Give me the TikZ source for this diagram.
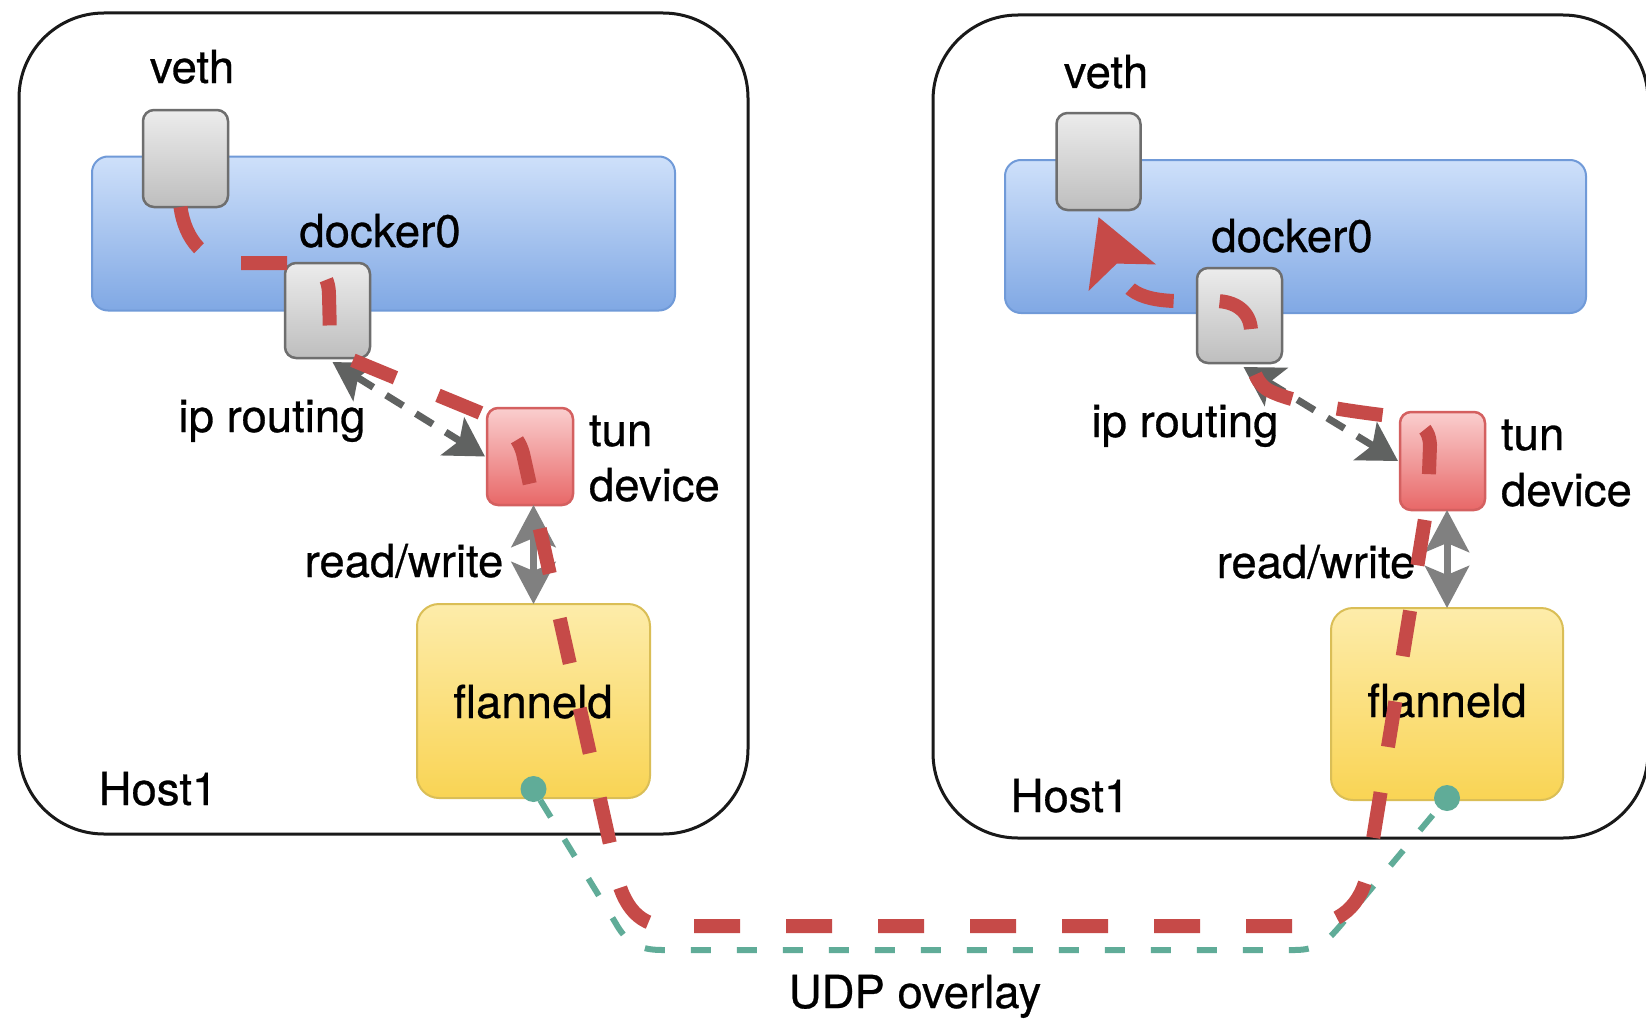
\documentclass[tikz,border=0pt]{standalone}
\usepackage{fontspec}
\setmainfont{TeX Gyre Heros}
\newfontfamily\lblfont[FakeBold=0.6]{TeX Gyre Heros}
\usetikzlibrary{arrows.meta}
\definecolor{redp}{RGB}{198,74,72}
\definecolor{tealp}{RGB}{96,172,152}
\definecolor{grayd}{RGB}{96,98,97}
\definecolor{grayrw}{RGB}{128,128,128}
\definecolor{barborder}{RGB}{112,154,216}
\definecolor{bartop}{RGB}{206,224,250}
\definecolor{barbot}{RGB}{128,168,228}
\definecolor{boxtop}{RGB}{236,236,236}
\definecolor{boxbot}{RGB}{190,190,190}
\definecolor{boxborder}{RGB}{110,110,110}
\definecolor{tuntop}{RGB}{250,206,206}
\definecolor{tunbot}{RGB}{232,104,104}
\definecolor{tunborder}{RGB}{212,96,96}
\definecolor{flantop}{RGB}{253,236,170}
\definecolor{flanbot}{RGB}{249,212,84}
\definecolor{flanborder}{RGB}{218,190,86}
\tikzset{
  hostbox/.style={draw=black!90, line width=3pt, rounded corners=85pt, fill=white, inner sep=0pt, outer sep=0pt},
  barbox/.style={draw=barborder, line width=2pt, rounded corners=16pt, top color=bartop, bottom color=barbot, inner sep=0pt, outer sep=0pt},
  graybox/.style={draw=boxborder, line width=2.5pt, rounded corners=11pt, top color=boxtop, bottom color=boxbot, inner sep=0pt, outer sep=0pt},
  tunbox/.style={draw=tunborder, line width=2.5pt, rounded corners=11pt, top color=tuntop, bottom color=tunbot, inner sep=0pt, outer sep=0pt},
  flanbox/.style={draw=flanborder, line width=2pt, rounded corners=22pt, top color=flantop, bottom color=flanbot, inner sep=0pt, outer sep=0pt},
  lbl/.style={inner sep=0pt, outer sep=0pt, font=\lblfont\fontsize{45.5}{54}\selectfont, anchor=base},
  lblw/.style={lbl, anchor=base west},
  redpath/.style={draw=redp, line width=14pt, dash pattern=on 46pt off 46pt},
  tealpath/.style={draw=tealp, line width=6pt, dash pattern=on 20pt off 26pt},
  tealdot/.style={circle, fill=tealp, minimum size=26pt, inner sep=0pt, outer sep=0pt},
  graydash/.style={draw=grayd, line width=7pt, dash pattern=on 20pt off 15pt,
    {Stealth[length=38pt,width=44pt,inset=8pt]}-{Stealth[length=38pt,width=44pt,inset=8pt]}},
  rwarrow/.style={draw=grayrw, line width=7pt,
    {Stealth[length=42pt,width=44pt,inset=9pt]}-{Stealth[length=42pt,width=44pt,inset=9pt]}}
}
\begin{document}
\begin{tikzpicture}[x=1pt,y=-1pt]
\fill[white] (0,0) rectangle (1646,1025);
\useasboundingbox (0,0) rectangle (1646,1025);

% hosts
\node[hostbox, minimum width=729pt, minimum height=821pt] (hostL) at (383.5,423.5) {};
\node[hostbox, minimum width=715pt, minimum height=823pt] (hostR) at (1290.5,426.5) {};

% docker0 bars
\node[barbox, minimum width=583pt, minimum height=154pt] (dockL) at (383.5,233.5) {};
\node[barbox, minimum width=581pt, minimum height=153pt] (dockR) at (1295.5,236.5) {};

% small boxes
\node[graybox, minimum width=85pt, minimum height=97pt] (vethL) at (185.5,158.5) {};
\node[graybox, minimum width=85pt, minimum height=95pt] (ipL) at (327.5,310.5) {};
\node[tunbox, minimum width=86pt, minimum height=97pt] (tunL) at (530,456.5) {};
\node[graybox, minimum width=84pt, minimum height=97pt] (vethR) at (1098.5,161.5) {};
\node[graybox, minimum width=85pt, minimum height=95pt] (ipR) at (1239.5,315.5) {};
\node[tunbox, minimum width=85pt, minimum height=98pt] (tunR) at (1442.5,461) {};

% flanneld boxes
\node[flanbox, minimum width=233pt, minimum height=194pt] (flanL) at (533.5,701) {};
\node[flanbox, minimum width=232pt, minimum height=192pt] (flanR) at (1447,704) {};

% labels
\node[lbl] (tveL) at (192,83) {veth};
\node[lbl] (tveR) at (1106,88) {veth};
\node[lbl] (tdoL) at (380,247) {docker0};
\node[lbl] (tdoR) at (1292,252) {docker0};
\node[lbl] (tipL) at (272,432) {ip routing};
\node[lbl] (tipR) at (1185,437) {ip routing};
\node[lblw] (ttuL) at (589,446) {tun};
\node[lblw] (tdeL) at (589,501) {device};
\node[lblw] (ttuR) at (1501,450) {tun};
\node[lblw] (tdeR) at (1501,506) {device};
\node[lbl] (trwL) at (404,577) {read/write};
\node[lbl] (trwR) at (1316,578) {read/write};
\node[lbl] (tflL) at (533,718) {flanneld};
\node[lbl] (tflR) at (1447,717) {flanneld};
\node[lbl] (thoL) at (158,805) {Host1};
\node[lbl] (thoR) at (1070,812) {Host1};
\node[lbl] (tudp) at (915,1008) {UDP overlay};

% read/write arrows
\draw[rwarrow] (tunL.south -| flanL.north) -- (flanL.north);
\draw[rwarrow] (tunR.south -| flanR.north) -- (flanR.north);

% ip routing <-> tun (dashed)
\draw[graydash] ([xshift=5pt,yshift=-4pt]ipL.south) -- ([xshift=-2pt]tunL.west);
\draw[graydash] ([xshift=4pt,yshift=-4pt]ipR.south) -- ([xshift=-2pt]tunR.west);

% UDP overlay (teal)
\node[tealdot] (dotL) at ([yshift=9pt]flanL.south) {};
\node[tealdot] (dotR) at ([yshift=2pt]flanR.south) {};
\draw[tealpath] (dotL) -- (615,922) .. controls (626,942) and (638,950) .. (662,950)
  -- (1295,950) .. controls (1318,950) and (1328,940) .. (1340,926) -- (dotR);

% packet path (red)
\draw[redpath, -{Stealth[length=64pt,width=70pt,inset=14pt]}]
  ([xshift=-5pt]vethL.south)
  .. controls (185,240) and (205,263) .. (235,263)
  -- (298,263)
  .. controls (318,263) and (329,275) .. (329,295)
  -- (330,336)
  .. controls (331,352) and (345,357) .. (362,364)
  -- (476,411)
  .. controls (505,423) and (520,436) .. (524,458)
  -- (614,862)
  .. controls (620,900) and (635,926) .. (668,926)
  -- (1300,926)
  .. controls (1340,926) and (1362,905) .. (1368,870)
  -- (1428,500)
  -- (1430,445)
  .. controls (1429,425) and (1415,418) .. (1390,416)
  .. controls (1340,410) and (1290,402) .. (1268,390)
  .. controls (1252,380) and (1250,360) .. (1251,330)
  .. controls (1250,312) and (1236,301) .. (1215,301)
  .. controls (1180,301) and (1140,305) .. (1124,282)
  -- ([yshift=-7pt]vethR.south);
\end{tikzpicture}
\end{document}
